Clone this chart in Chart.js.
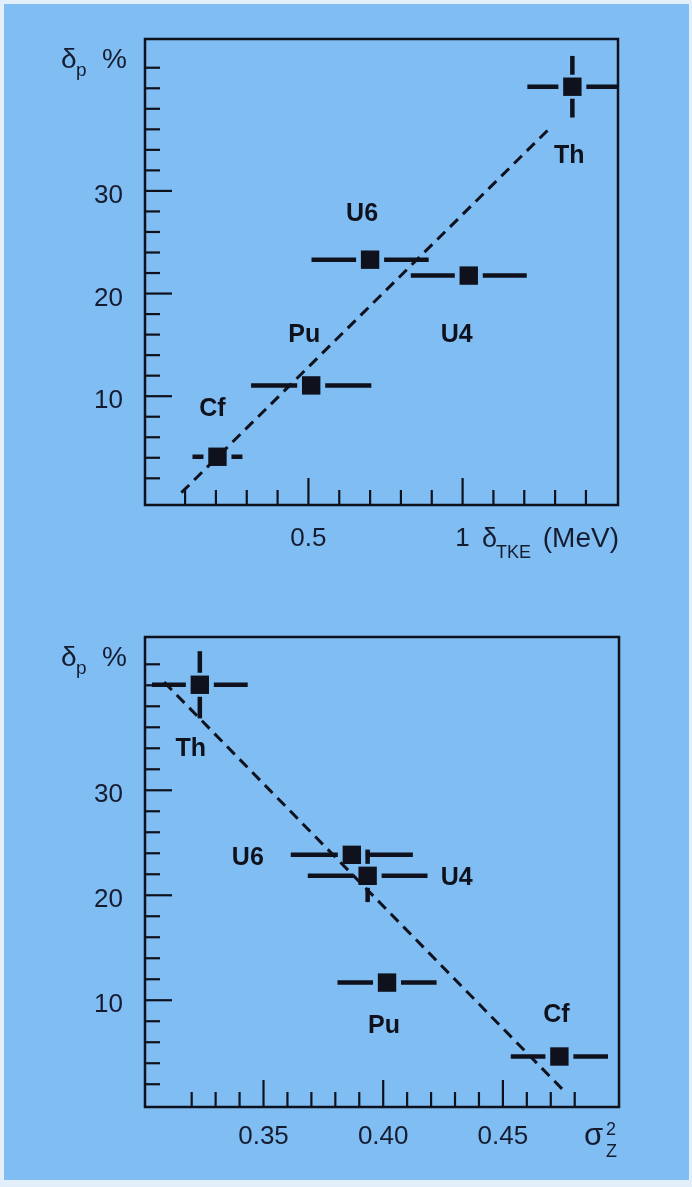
<!DOCTYPE html>
<html>
<head>
<meta charset="utf-8">
<title>Proton odd-even effect</title>
<script src="https://cdn.jsdelivr.net/npm/chart.js@4.4.1/dist/chart.umd.min.js"></script>
<style>
  html, body { margin: 0; padding: 0; background: #e2eefa; }
  #panel { position: absolute; left: 4px; top: 4px; width: 685px; height: 1176px; background: #7fbdf3; }
  .plot { position: absolute; left: 0; }
  #tke-box { top: 0; }
  #sigma-box { top: 590px; }
</style>
</head>
<body>
<div id="panel"></div>
<div class="plot" id="tke-box"><canvas id="tke-chart" width="692" height="590"></canvas></div>
<div class="plot" id="sigma-box"><canvas id="sigma-chart" width="692" height="597"></canvas></div>
<script>
// ---------------------------------------------------------------------------
// Data
// ---------------------------------------------------------------------------

const nuclei = ['Cf', 'Pu', 'U6', 'U4', 'Th'];

// delta_p vs width of the total kinetic energy distribution (MeV)
const tkeX    = [0.205, 0.509, 0.700, 1.020, 1.356];
const tkeXErr = [0.081, 0.195, 0.190, 0.188, 0.146];
const tkeY    = [4.10, 11.05, 23.30, 21.75, 40.15];
const tkeYErr = [0, 0, 0, 0, 3.0];
const tkeFitX = [0.088, 1.279];
const tkeFitY = [0.6, 36.0];

// delta_p vs charge variance sigma_Z^2
const sigX    = [0.4736, 0.4016, 0.3869, 0.3935, 0.3234];
const sigXErr = [0.0203, 0.0207, 0.0255, 0.0250, 0.0200];
const sigY    = [4.64, 11.68, 23.85, 21.85, 40.05];
const sigYErr = [0, 0, 0, 2.5, 3.2];
const sigFitX = [0.3085, 0.4758];
const sigFitY = [40.3, 1.3];

// labelled ticks
const yTickVals   = [10, 20, 30];
const tkeTickVals = [0.5, 1];
const tkeTickText = ['0.5', '1'];
const sigTickVals = [0.35, 0.40, 0.45];
const sigTickText = ['0.35', '0.40', '0.45'];

// ---------------------------------------------------------------------------
// Drawing helpers
// ---------------------------------------------------------------------------

const INK = '#0f121c';
const TEXT = '#161c30';
const FONT = '"Liberation Sans", Arial, Helvetica, sans-serif';
const GAP = 14; // error bars stop short of the marker

function seg(ctx, x1, y1, x2, y2) {
  if (Math.abs(x2 - x1) + Math.abs(y2 - y1) < 0.5) return;
  ctx.beginPath();
  ctx.moveTo(x1, y1);
  ctx.lineTo(x2, y2);
  ctx.stroke();
}

function text(ctx, str, size, x, y, align, bold) {
  ctx.font = (bold ? 'bold ' : '') + size + 'px ' + FONT;
  ctx.textAlign = align || 'left';
  ctx.fillText(str, x, y);
}

function isIn(list, v) {
  return list.some(m => Math.abs(m - v) < 1e-6);
}

// error bars, inward ticks, frame, nucleus names and axis titles
function decor(p) {
  return {
    id: 'decor',
    beforeDatasetsDraw(chart) {
      const { ctx, chartArea: a, scales: { x, y } } = chart;
      ctx.save();
      ctx.beginPath();
      ctx.rect(a.left, a.top, a.right - a.left, a.bottom - a.top);
      ctx.clip();
      ctx.strokeStyle = INK;
      ctx.lineWidth = 4.5;
      p.x.forEach((v, i) => {
        const cx = x.getPixelForValue(v);
        const cy = y.getPixelForValue(p.y[i]);
        if (p.xErr[i]) {
          const l = x.getPixelForValue(v - p.xErr[i]);
          const r = x.getPixelForValue(v + p.xErr[i]);
          seg(ctx, l, cy, cx - GAP, cy);
          seg(ctx, cx + GAP, cy, r, cy);
        }
        if (p.yErr[i]) {
          const t = y.getPixelForValue(p.y[i] + p.yErr[i]);
          const b = y.getPixelForValue(p.y[i] - p.yErr[i]);
          seg(ctx, cx, t, cx, cy - GAP + 2);
          seg(ctx, cx, cy + GAP - 2, cx, b);
        }
      });
      ctx.restore();
    },
    afterDraw(chart) {
      const { ctx, chartArea: a, scales: { x, y } } = chart;
      ctx.save();
      ctx.strokeStyle = INK;
      ctx.lineWidth = 2.2;
      y.ticks.forEach(t => {
        const py = y.getPixelForValue(t.value);
        if (t.value <= 0 || py < a.top + 3 || py > a.bottom - 3) return;
        seg(ctx, a.left, py, a.left + (isIn(yTickVals, t.value) ? 27 : 15), py);
      });
      x.ticks.forEach(t => {
        const px = x.getPixelForValue(t.value);
        if (Math.abs(t.value) < 1e-9 || px < a.left + 3 || px > a.right - 3) return;
        seg(ctx, px, a.bottom, px, a.bottom - (isIn(p.xTickVals, t.value) ? 27 : 15));
      });
      ctx.lineWidth = 2.5;
      ctx.strokeRect(a.left, a.top, a.right - a.left, a.bottom - a.top);

      ctx.fillStyle = INK;
      ctx.textBaseline = 'middle';
      nuclei.forEach((n, i) => {
        const [dx, dy] = p.nameOffset[n];
        text(ctx, n, 25, x.getPixelForValue(p.x[i]) + dx, y.getPixelForValue(p.y[i]) + dy, 'center', true);
      });

      ctx.fillStyle = TEXT;
      ctx.textBaseline = 'alphabetic';
      text(ctx, 'δ', 28, a.left - 84, a.top + 29);
      text(ctx, 'p', 19, a.left - 69, a.top + 37);
      text(ctx, '%', 28, a.left - 43, a.top + 29);
      p.xTitle(ctx, a);
      ctx.restore();
    }
  };
}

function makePanel(id, p) {
  const pts = p.x.map((v, i) => ({ x: v, y: p.y[i] }));
  const fit = p.fitX.map((v, i) => ({ x: v, y: p.fitY[i] }));
  const tickFont = { family: FONT, size: 26 };
  return new Chart(document.getElementById(id), {
    type: 'scatter',
    data: {
      datasets: [
        {
          data: pts,
          pointStyle: 'rect',
          pointRadius: 13,
          pointHoverRadius: 13,
          backgroundColor: INK,
          borderWidth: 0,
          order: 0
        },
        {
          data: fit,
          showLine: true,
          borderColor: INK,
          borderWidth: 3,
          borderDash: [11, 7],
          pointRadius: 0,
          fill: false,
          order: 1
        }
      ]
    },
    options: {
      responsive: false,
      animation: false,
      devicePixelRatio: 1,
      events: [],
      layout: { autoPadding: false, padding: p.padding },
      plugins: { legend: { display: false }, tooltip: { enabled: false } },
      scales: {
        x: {
          type: 'linear',
          min: p.xMin,
          max: p.xMax,
          afterFit: s => { s.height = p.xHeight; },
          grid: { display: false, drawTicks: false },
          border: { display: false },
          ticks: {
            stepSize: p.xStep,
            autoSkip: false,
            maxRotation: 0,
            padding: p.xPad,
            color: TEXT,
            font: tickFont,
            callback: v => {
              const k = p.xTickVals.findIndex(t => Math.abs(t - v) < 1e-6);
              return k < 0 ? '' : p.xTickText[k];
            }
          }
        },
        y: {
          type: 'linear',
          min: p.yMin,
          max: p.yMax,
          afterFit: s => { s.width = 145; },
          grid: { display: false, drawTicks: false },
          border: { display: false },
          ticks: {
            stepSize: 2,
            autoSkip: false,
            padding: 22,
            labelOffset: 5,
            color: TEXT,
            font: tickFont,
            callback: v => (isIn(yTickVals, v) ? String(Math.round(v)) : '')
          }
        }
      }
    },
    plugins: [decor(p)]
  });
}

// ---------------------------------------------------------------------------
// Panels
// ---------------------------------------------------------------------------

makePanel('tke-chart', {
  x: tkeX, xErr: tkeXErr, y: tkeY, yErr: tkeYErr,
  fitX: tkeFitX, fitY: tkeFitY,
  xMin: -0.03, xMax: 1.504, xStep: 0.1,
  yMin: -0.6, yMax: 44.8,
  xTickVals: tkeTickVals, xTickText: tkeTickText,
  padding: { top: 39, right: 74, bottom: 0, left: 0 },
  xHeight: 85, xPad: 18,
  nameOffset: { Cf: [-5, -48], Pu: [-7, -50], U6: [-8, -46], U4: [-12, 60], Th: [-3, 69] },
  xTitle: (ctx, a) => {
    text(ctx, 'δ', 27, a.right - 136, a.bottom + 42);
    text(ctx, 'TKE', 18, a.right - 122, a.bottom + 53);
    text(ctx, '(MeV)', 28, a.right + 1, a.bottom + 42, 'right');
  }
});

makePanel('sigma-chart', {
  x: sigX, xErr: sigXErr, y: sigY, yErr: sigYErr,
  fitX: sigFitX, fitY: sigFitY,
  xMin: 0.3005, xMax: 0.4985, xStep: 0.01,
  yMin: -0.17, yMax: 44.6,
  xTickVals: sigTickVals, xTickText: sigTickText,
  padding: { top: 47, right: 73, bottom: 0, left: 0 },
  xHeight: 80, xPad: 14,
  nameOffset: { Cf: [-3, -41], Pu: [-3, 44], U6: [-104, 3], U4: [89, 2], Th: [-9, 64] },
  xTitle: (ctx, a) => {
    text(ctx, 'σ', 31, a.right - 35, a.bottom + 38);
    text(ctx, '2', 18, a.right - 13, a.bottom + 28);
    text(ctx, 'Z', 18, a.right - 13, a.bottom + 50);
  }
});
</script>
</body>
</html>
